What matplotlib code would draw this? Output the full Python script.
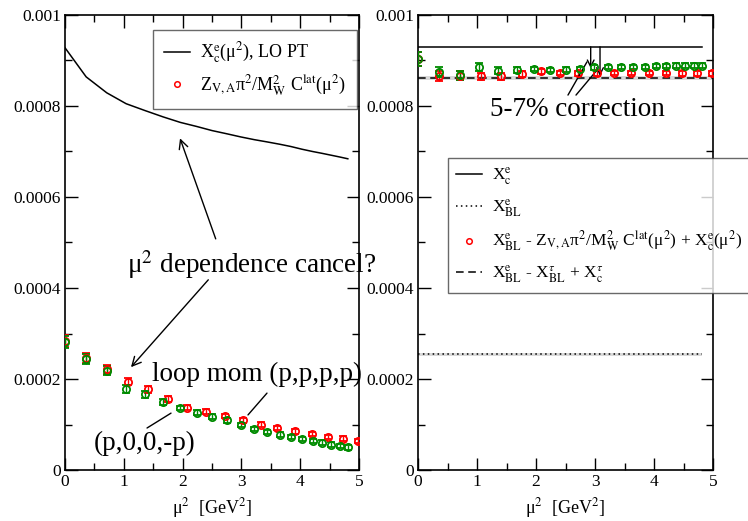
import matplotlib
matplotlib.use('Agg')
import matplotlib.pyplot as plt
from matplotlib.lines import Line2D
import numpy as np

plt.rcParams['font.family'] = ['Liberation Serif', 'DejaVu Serif']
plt.rcParams['mathtext.fontset'] = 'stix'

# ---------------- data ----------------
# LO perturbation theory X_c^e(mu^2)
lo_mu2 = [0.0, 0.36, 0.71, 1.04, 1.36, 1.67, 1.96, 2.24, 2.50, 2.75, 2.99,
          3.22, 3.44, 3.65, 3.84, 4.03, 4.21, 4.37, 4.52, 4.67, 4.81]
lo_val = [9.28e-4, 8.64e-4, 8.29e-4, 8.05e-4, 7.90e-4, 7.76e-4, 7.64e-4,
          7.55e-4, 7.46e-4, 7.39e-4, 7.32e-4, 7.26e-4, 7.21e-4, 7.16e-4,
          7.11e-4, 7.05e-4, 7.00e-4, 6.96e-4, 6.92e-4, 6.88e-4, 6.84e-4]

# (p,0,0,-p) lattice data (green)
g_mu2 = [0.0, 0.36, 0.71, 1.04, 1.36, 1.67, 1.96, 2.24, 2.50, 2.75, 2.99,
         3.22, 3.44, 3.65, 3.84, 4.03, 4.21, 4.37, 4.52, 4.67, 4.81]
g_left = [2.82e-4, 2.45e-4, 2.18e-4, 1.78e-4, 1.66e-4, 1.49e-4, 1.36e-4,
          1.26e-4, 1.17e-4, 1.09e-4, 0.99e-4, 0.90e-4, 0.84e-4, 0.78e-4,
          0.73e-4, 0.68e-4, 0.64e-4, 0.60e-4, 0.56e-4, 0.53e-4, 0.50e-4]
g_left_err = [1.3e-5, 1.1e-5, 1.0e-5, 0.9e-5, 0.7e-5, 0.6e-5, 0.5e-5,
              0.5e-5, 0.5e-5, 0.5e-5, 0.5e-5, 0.5e-5, 0.5e-5, 0.5e-5,
              0.5e-5, 0.5e-5, 0.5e-5, 0.5e-5, 0.5e-5, 0.5e-5, 0.5e-5]
g_right = [9.03e-4, 8.74e-4, 8.68e-4, 8.85e-4, 8.78e-4, 8.79e-4, 8.81e-4,
           8.79e-4, 8.80e-4, 8.81e-4, 8.85e-4, 8.86e-4, 8.86e-4, 8.86e-4,
           8.86e-4, 8.88e-4, 8.88e-4, 8.89e-4, 8.89e-4, 8.89e-4, 8.89e-4]
g_right_err = [1.6e-5, 1.1e-5, 1.0e-5, 0.9e-5, 0.7e-5, 0.6e-5, 0.5e-5,
               0.5e-5, 0.5e-5, 0.5e-5, 0.5e-5, 0.5e-5, 0.5e-5, 0.5e-5,
               0.5e-5, 0.5e-5, 0.5e-5, 0.5e-5, 0.5e-5, 0.5e-5, 0.5e-5]

# (p,p,p,p) lattice data (red)
r_mu2 = [0.0, 0.36, 0.71, 1.07, 1.41, 1.76, 2.08, 2.40, 2.72, 3.03, 3.33,
         3.61, 3.91, 4.20, 4.47, 4.73, 4.99]
r_left = [2.83e-4, 2.47e-4, 2.21e-4, 1.94e-4, 1.77e-4, 1.56e-4, 1.37e-4,
          1.28e-4, 1.19e-4, 1.09e-4, 1.00e-4, 0.92e-4, 0.85e-4, 0.79e-4,
          0.73e-4, 0.69e-4, 0.64e-4]
r_left_err = [1.3e-5, 1.1e-5, 1.0e-5, 0.8e-5, 0.8e-5, 0.7e-5, 0.6e-5,
              0.5e-5, 0.5e-5, 0.5e-5, 0.5e-5, 0.5e-5, 0.5e-5, 0.5e-5,
              0.5e-5, 0.5e-5, 0.5e-5]
r_right = [9.03e-4, 8.66e-4, 8.67e-4, 8.65e-4, 8.65e-4, 8.70e-4, 8.76e-4,
           8.73e-4, 8.72e-4, 8.72e-4, 8.73e-4, 8.73e-4, 8.73e-4, 8.73e-4,
           8.72e-4, 8.72e-4, 8.72e-4]
r_right_err = [1.6e-5, 1.1e-5, 1.0e-5, 0.8e-5, 0.8e-5, 0.7e-5, 0.6e-5,
               0.5e-5, 0.5e-5, 0.5e-5, 0.5e-5, 0.5e-5, 0.5e-5, 0.5e-5,
               0.5e-5, 0.5e-5, 0.5e-5]

# constant reference values (right panel)
xc_e = 9.30e-4
xc_range = [0.0, 4.81]
xbl_e = 2.54e-4
xbl_err = 0.4e-5
xbl_range = [0.0, 4.81]
xbl_tau = 8.61e-4
xbl_tau_err = 0.4e-5
xbl_tau_range = [0.0, 5.0]

x_ticks = [0, 1, 2, 3, 4, 5]
x_ticklabels = ['0', '1', '2', '3', '4', '5']
y_ticks = [0, 0.0002, 0.0004, 0.0006, 0.0008, 0.001]
y_ticklabels = ['0', '0.0002', '0.0004', '0.0006', '0.0008', '0.001']

GREEN = '#008b00'
RED = '#ff0000'

fig = plt.figure(figsize=(7.48, 5.21), dpi=100)
W, H = 748.0, 521.0
axL = fig.add_axes([65 / W, 1 - 470 / H, 294 / W, 455 / H])
axR = fig.add_axes([418 / W, 1 - 470 / H, 295 / W, 455 / H])


def style(ax):
    ax.set_xlim(0, 5)
    ax.set_ylim(0, 0.001)
    ax.set_xticks(x_ticks)
    ax.set_xticklabels(x_ticklabels)
    ax.set_yticks(y_ticks)
    ax.set_yticklabels(y_ticklabels)
    ax.set_xticks(np.arange(0.5, 5, 1.0), minor=True)
    ax.set_yticks(np.arange(0.0001, 0.001, 0.0002), minor=True)
    ax.tick_params(which='both', direction='in', top=True, right=True,
                   labelsize=12.5, width=1.0)
    ax.tick_params(which='major', length=9, pad=3)
    ax.tick_params(which='minor', length=4.7)
    for s in ax.spines.values():
        s.set_linewidth(1.2)
    ax.set_xlabel(r'μ$^2$  [GeV$^2$]', fontsize=13, labelpad=4)


def points(ax, x, y, e, color):
    ax.errorbar(x, y, yerr=e, fmt='o', ms=5.2, mfc='none', mec=color,
                mew=1.3, ecolor=color, elinewidth=1.0, capsize=2.8,
                capthick=1.1, zorder=3)


style(axL)
style(axR)

# ---------------- left panel ----------------
axL.plot(lo_mu2, lo_val, color='black', lw=1.1)
points(axL, r_mu2, r_left, r_left_err, RED)
points(axL, g_mu2, g_left, g_left_err, GREEN)

legL = [Line2D([], [], color='black', lw=1.1),
        Line2D([], [], ls='none', marker='o', ms=4, mfc='none', mec=RED, mew=1.1)]
labL = [r'X$_{\rm c}^{\rm e}$(μ$^2$), LO PT',
        r'Z$_{\rm V,A}$π$^2$/M$_{\rm W}^2$ C$^{\rm lat}$(μ$^2$)']
lg = axL.legend(legL, labL, loc='upper right', bbox_to_anchor=(0.993, 0.967),
                fontsize=13, frameon=True, fancybox=False, edgecolor='#444444',
                handlelength=1.45, handletextpad=0.55, borderaxespad=0,
                borderpad=0.6, labelspacing=0.45, numpoints=1)
lg.get_frame().set_linewidth(1.0)

axL.text(1.049, 0.000434, r'μ$^2$ dependence cancel?', fontsize=19.5,
         ha='left', va='baseline', zorder=5)
axL.annotate('', xy=(1.956, 0.000729), xytext=(2.563, 0.000508),
             arrowprops=dict(arrowstyle='->', color='black', lw=1.0,
                             mutation_scale=16, shrinkA=0, shrinkB=0))
axL.annotate('', xy=(1.122, 0.000226), xytext=(2.437, 0.000418),
             arrowprops=dict(arrowstyle='->', color='black', lw=1.0,
                             mutation_scale=16, shrinkA=0, shrinkB=0))
axL.text(1.48, 0.000196, 'loop mom (p,p,p,p)', fontsize=19.5,
         ha='left', va='baseline', zorder=5)
axL.annotate('', xy=(3.112, 0.000121), xytext=(3.435, 0.000169),
             arrowprops=dict(arrowstyle='-', color='black', lw=1.0,
                             shrinkA=0, shrinkB=0))
axL.text(0.482, 0.000044, '(p,0,0,-p)', fontsize=19.5,
         ha='left', va='baseline', zorder=5)
axL.annotate('', xy=(1.395, 0.0000923), xytext=(1.803, 0.000125),
             arrowprops=dict(arrowstyle='-', color='black', lw=1.0,
                             shrinkA=0, shrinkB=0))

# ---------------- right panel ----------------
axR.fill_between(xbl_range, xbl_e - xbl_err, xbl_e + xbl_err,
                 color='#d9d9d9', lw=0, zorder=1)
axR.fill_between(xbl_tau_range, xbl_tau - xbl_tau_err, xbl_tau + xbl_tau_err,
                 color='#d9d9d9', lw=0, zorder=1)
axR.plot(xc_range, [xc_e, xc_e], color='black', lw=1.1, zorder=2)
axR.plot(xbl_range, [xbl_e, xbl_e], color='black', lw=1.1, ls=(0, (1, 2.2)),
         zorder=2)
axR.plot(xbl_tau_range, [xbl_tau, xbl_tau], color='black', lw=1.1,
         ls=(0, (5, 3)), zorder=2)
points(axR, r_mu2, r_right, r_right_err, RED)
points(axR, g_mu2, g_right, g_right_err, GREEN)

axR.text(1.22, 0.000778, '5-7% correction', fontsize=19.5, ha='left',
         va='baseline', zorder=5)
axR.annotate('', xy=(2.927, 0.000883), xytext=(2.927, xc_e),
             arrowprops=dict(arrowstyle='->', color='black', lw=1.0,
                             mutation_scale=12, shrinkA=0, shrinkB=0))
axR.annotate('', xy=(3.085, 0.000866), xytext=(3.085, xc_e),
             arrowprops=dict(arrowstyle='->', color='black', lw=1.0,
                             mutation_scale=12, shrinkA=0, shrinkB=0))
axR.annotate('', xy=(2.864, 0.000897), xytext=(2.542, 0.000824),
             arrowprops=dict(arrowstyle='-', color='black', lw=1.0,
                             shrinkA=0, shrinkB=0))
axR.annotate('', xy=(3.034, 0.000879), xytext=(2.678, 0.000824),
             arrowprops=dict(arrowstyle='-', color='black', lw=1.0,
                             shrinkA=0, shrinkB=0))

legR = [Line2D([], [], color='black', lw=1.1),
        Line2D([], [], color='black', lw=1.1, ls=(0, (1, 2.2))),
        Line2D([], [], ls='none', marker='o', ms=4, mfc='none', mec=RED, mew=1.1),
        Line2D([], [], color='black', lw=1.1, ls=(0, (5, 3)))]
labR = [r'X$_{\rm c}^{\rm e}$',
        r'X$_{\rm BL}^{\rm e}$',
        r'X$_{\rm BL}^{\rm e}$ - Z$_{\rm V,A}$π$^2$/M$_{\rm W}^2$ C$^{\rm lat}$(μ$^2$) + X$_{\rm c}^{\rm e}$(μ$^2$)',
        r'X$_{\rm BL}^{\rm e}$ - X$_{\rm BL}^{τ}$ + X$_{\rm c}^{τ}$']
lg2 = axR.legend(legR, labR, loc='upper left', bbox_to_anchor=(0.1007, 0.6857),
                 fontsize=12.5, frameon=True, fancybox=False, edgecolor='#444444',
                 handlelength=1.5, handletextpad=0.6, borderaxespad=0,
                 borderpad=0.45, labelspacing=0.58, numpoints=1)
lg2.get_frame().set_linewidth(1.0)
lg2.set_zorder(6)

fig.savefig('out.png', dpi=100)
